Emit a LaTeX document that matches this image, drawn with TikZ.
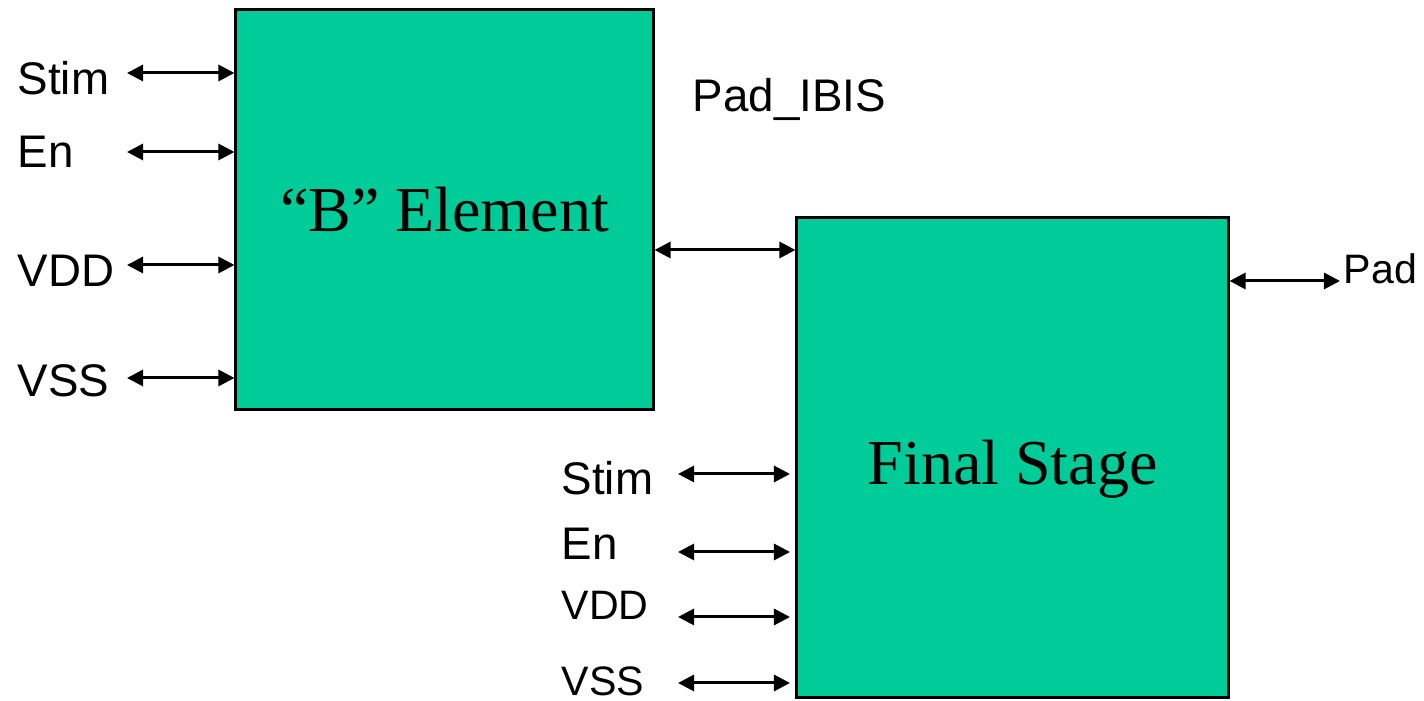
\documentclass[tikz,border=0pt]{standalone}
\usepackage{fontspec}
\setmainfont{Liberation Sans}
\newfontfamily\blockfont{Liberation Serif}
\usetikzlibrary{positioning}
\usetikzlibrary{arrows.meta}
\definecolor{blockgreen}{RGB}{0,204,153}
\tikzset{
    blocknode/.style = {rectangle, line width=0.8pt, draw=black, fill=blockgreen, inner sep=0pt, font=\blockfont\fontsize{18.2}{22}\selectfont},
    pinlabel/.style = {anchor=base west, inner sep=0pt, font=\fontsize{13}{15}\selectfont},
    pinlabels/.style = {anchor=base west, inner sep=0pt, font=\fontsize{11.7}{14}\selectfont},
    pinarrow/.style = {{Triangle[length=4.6pt,width=4.6pt]}-{Triangle[length=4.6pt,width=4.6pt]}, line width=0.85pt, black},
}

\begin{document}
\begin{tikzpicture}[x=0.01cm,y=-0.01cm]
\useasboundingbox (0,0) rectangle (1424,701);
\node[blocknode, minimum width=4.17cm, minimum height=3.99cm] at (444.5, 209.5) (belem) {“B” Element};
\node[blocknode, minimum width=4.31cm, minimum height=4.79cm, text height=0.68cm, text depth=0.14cm] at (1012.5, 457.5) (final) {Final Stage};
%
\node[pinlabel] at (17, 95) (stima) {Stim};
\node[pinlabel] at (17, 168) (ena) {En};
\node[pinlabel] at (17, 287) (vdda) {VDD};
\node[pinlabel] at (17, 397) (vssa) {VSS};
\node[pinlabel] at (692, 112) (padibis) {Pad\_IBIS};
\node[pinlabels] at (1343, 284) (pad) {Pad};
\node[pinlabel] at (561, 495) (stimb) {Stim};
\node[pinlabel] at (561, 560) (enb) {En};
\node[pinlabels] at (561, 620) (vddb) {VDD};
\node[pinlabels] at (561, 696) (vssb) {VSS};
%
\coordinate (stimaend) at (127, 73);
\coordinate (enaend) at (127, 152);
\coordinate (vddaend) at (127, 265);
\coordinate (vssaend) at (127, 378);
\coordinate (linkend) at (653, 250);
\coordinate (padend) at (1340, 281);
\coordinate (stimbend) at (678, 474);
\coordinate (enbend) at (678, 552);
\coordinate (vddbend) at (678, 617);
\coordinate (vssbend) at (678, 683);
\coordinate (stimbtip) at (790, 474);
\coordinate (enbtip) at (790, 552);
\coordinate (vddbtip) at (790, 617);
\coordinate (vssbtip) at (790, 683);
%
\draw[pinarrow] (stimaend) -- (belem.west |- stimaend);
\draw[pinarrow] (enaend) -- (belem.west |- enaend);
\draw[pinarrow] (vddaend) -- (belem.west |- vddaend);
\draw[pinarrow] (vssaend) -- (belem.west |- vssaend);
\draw[pinarrow] (belem.east |- linkend) -- (final.west |- linkend);
\draw[pinarrow] (final.east |- padend) -- (padend);
\draw[pinarrow] (stimbend) -- (stimbtip);
\draw[pinarrow] (enbend) -- (enbtip);
\draw[pinarrow] (vddbend) -- (vddbtip);
\draw[pinarrow] (vssbend) -- (vssbtip);

\end{tikzpicture}
\end{document}
